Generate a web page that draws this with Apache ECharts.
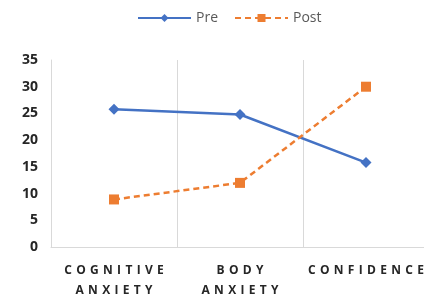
<!DOCTYPE html>
<html>
<head>
<meta charset="utf-8">
<script src="https://cdn.jsdelivr.net/npm/echarts@6/dist/echarts.min.js"></script>
<style>
  html, body { margin: 0; padding: 0; background: #fff; }
  #chart { width: 424px; height: 296px; }
</style>
</head>
<body>
<div id="chart"></div>
<script>
const categories = ['COGNITIVE ANXIETY', 'BODY ANXIETY', 'CONFIDENCE'];
const preValues = [25.8, 24.8, 15.8];
const postValues = [8.9, 12, 30];

// spread letters out a bit, put the second word on its own line
function spaced (label) {
  return label.split(' ').map(w => w.split('').join(' \u200A')).join('\n');
}

const chart = echarts.init(document.getElementById('chart'));
chart.setOption({
  animation: false,
  legend: {
    top: 6,
    left: 132,
    itemWidth: 53,
    itemHeight: 10,
    itemGap: 16,
    textStyle: { color: '#595959', fontSize: 14, fontFamily: 'Open Sans' },
    data: ['Pre', 'Post']
  },
  grid: { left: 51, width: 378, top: 60, bottom: 49, outerBoundsMode: 'none' },
  xAxis: {
    type: 'category',
    data: categories,
    boundaryGap: true,
    axisLine: { lineStyle: { color: '#d9d9d9', width: 1 } },
    axisTick: { show: false },
    splitLine: { show: true, interval: 0, lineStyle: { color: '#d9d9d9', width: 1 } },
    axisLabel: {
      interval: 0,
      hideOverlap: false,
      margin: 14,
      color: '#262626',
      fontSize: 12,
      fontWeight: 'bold',
      fontFamily: 'Open Sans',
      lineHeight: 20,
      formatter: spaced
    }
  },
  yAxis: {
    type: 'value',
    min: 0,
    max: 35,
    interval: 5,
    axisLine: { show: true, lineStyle: { color: '#d9d9d9', width: 1 } },
    axisTick: { show: false },
    splitLine: { show: false },
    axisLabel: {
      margin: 13,
      color: '#262626',
      fontSize: 14,
      fontWeight: 'bold',
      fontFamily: 'Open Sans'
    }
  },
  series: [
    {
      name: 'Pre',
      type: 'line',
      data: preValues,
      symbol: 'diamond',
      symbolSize: 11,
      lineStyle: { color: '#4472C4', width: 2.5 },
      itemStyle: { color: '#4472C4' }
    },
    {
      name: 'Post',
      type: 'line',
      data: postValues,
      symbol: 'rect',
      symbolSize: 10,
      lineStyle: { color: '#ED7D31', width: 2.5, type: [6, 4] },
      itemStyle: { color: '#ED7D31' }
    }
  ]
});
</script>
</body>
</html>
